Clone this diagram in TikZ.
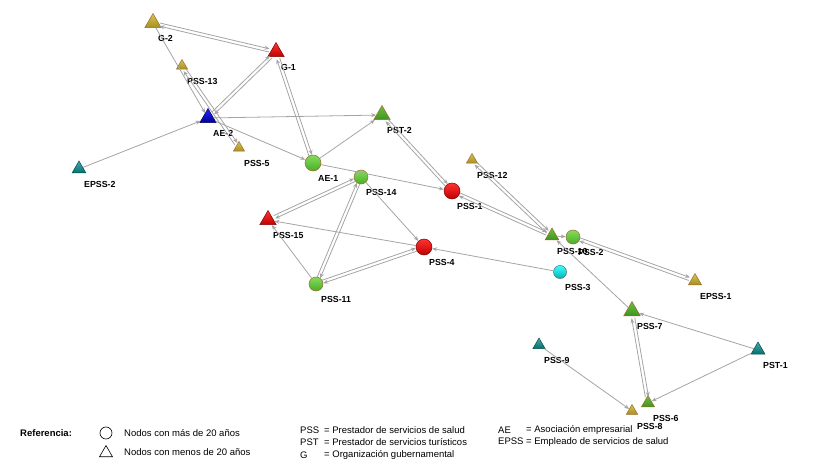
\documentclass[tikz,border=0pt]{standalone}
\usepackage{fontspec}
\setmainfont{Liberation Sans}
\usetikzlibrary{shapes.geometric,arrows.meta,calc}

\definecolor{linegray}{HTML}{A4A4A4}
\definecolor{rimbrown}{HTML}{9A6A28}
\definecolor{olivetop}{HTML}{D6C452}
\definecolor{olivebot}{HTML}{A88E22}
\definecolor{greentop}{HTML}{6CC040}
\definecolor{greenbot}{HTML}{3E9420}
\definecolor{balltop}{HTML}{86DC5C}
\definecolor{ballbot}{HTML}{48AE28}

\tikzset{
  edge/.style={draw=linegray, line width=0.8pt, -{Stealth[length=5pt,width=4pt]}},
  nd/.style={inner sep=0pt, draw=rimbrown, line width=0.5pt},
  tri/.style={nd, regular polygon, regular polygon sides=3, minimum size=19pt},
  smalltri/.style={tri, minimum size=13pt},
  ball/.style={nd, circle, minimum size=16pt},
  smallball/.style={ball, minimum size=14pt},
  cred/.style={top color=red!80!white, bottom color=red!75!black, draw=red!50!black},
  colive/.style={top color=olivetop, bottom color=olivebot},
  cgreen/.style={top color=greentop, bottom color=greenbot},
  cgreenball/.style={top color=balltop, bottom color=ballbot},
  cblue/.style={top color=blue!85!white, bottom color=blue!60!black, draw=blue!30!black},
  cteal/.style={top color=teal!70!white, bottom color=teal!90!black, draw=teal!60!black},
  ccyan/.style={top color=cyan!75!white, bottom color=cyan!70!black, draw=cyan!40!black},
  lbl/.style={font=\bfseries\fontsize{8.8}{10}\selectfont, inner sep=0pt, anchor=north west, xshift=5pt, yshift=-12pt},
  legtxt/.style={font=\fontsize{9.5}{11}\selectfont, inner sep=0pt, anchor=west},
}

\newcommand{\twoway}[4]{%
  \draw[edge, shorten <=#3, shorten >=#4] ($(#1)!1.6pt!90:(#2)$) -- ($(#2)!1.6pt!-90:(#1)$);
  \draw[edge, shorten <=#4, shorten >=#3] ($(#2)!1.6pt!90:(#1)$) -- ($(#1)!1.6pt!-90:(#2)$);
}

\begin{document}
\begin{tikzpicture}[x=1pt, y=-1pt]
  \useasboundingbox (0,0) rectangle (822,473);

  \node[tri, colive] (g2) at (153,23) {};
  \node[tri, cred] (g1) at (276,52) {};
  \node[smalltri, colive] (pss13) at (182,66) {};
  \node[tri, cblue] (ae2) at (208,118) {};
  \node[smalltri, colive] (pss5) at (239,148) {};
  \node[tri, cteal, minimum size=16pt] (epss2) at (79,169) {};
  \node[tri, cgreen] (pst2) at (382,115) {};
  \node[ball, cgreenball] (ae1) at (313,163) {};
  \node[smallball, cgreenball] (pss14) at (361,177) {};
  \node[ball, cred] (pss1) at (452,191) {};
  \node[smalltri, colive] (pss12) at (472,160) {};
  \node[tri, cred] (pss15) at (268,220) {};
  \node[ball, cred] (pss4) at (424,247) {};
  \node[smallball, cgreenball] (pss11) at (316,284) {};
  \node[tri, cgreen, minimum size=16pt] (pss10) at (552,236) {};
  \node[smallball, cgreenball] (pss2) at (573,237) {};
  \node[smallball, ccyan, minimum size=13pt] (pss3) at (560,272) {};
  \node[tri, colive, minimum size=15pt] (epss1) at (695,281) {};
  \node[tri, cgreen] (pss7) at (632,311) {};
  \node[tri, cteal, minimum size=16pt] (pst1) at (758,350) {};
  \node[tri, cteal, minimum size=14pt] (pss9) at (539,345) {};
  \node[tri, cgreen, minimum size=15pt] (pss6) at (648,403) {};
  \node[smalltri, colive] (pss8) at (632,411) {};

  \node[lbl] (g2l) at (g2) {G-2};
  \node[lbl] (g1l) at (g1) {G-1};
  \node[lbl] (pss13l) at (pss13) {PSS-13};
  \node[lbl] (ae2l) at (ae2) {AE-2};
  \node[lbl] (pss5l) at (pss5) {PSS-5};
  \node[lbl] (epss2l) at (epss2) {EPSS-2};
  \node[lbl] (pst2l) at (pst2) {PST-2};
  \node[lbl] (ae1l) at (ae1) {AE-1};
  \node[lbl] (pss14l) at (pss14) {PSS-14};
  \node[lbl] (pss1l) at (pss1) {PSS-1};
  \node[lbl] (pss12l) at (pss12) {PSS-12};
  \node[lbl] (pss15l) at (pss15) {PSS-15};
  \node[lbl] (pss4l) at (pss4) {PSS-4};
  \node[lbl] (pss11l) at (pss11) {PSS-11};
  \node[lbl] (pss10l) at (pss10) {PSS-10};
  \node[lbl] (pss2l) at (pss2) {PSS-2};
  \node[lbl] (pss3l) at (pss3) {PSS-3};
  \node[lbl] (epss1l) at (epss1) {EPSS-1};
  \node[lbl] (pss7l) at (pss7) {PSS-7};
  \node[lbl] (pst1l) at (pst1) {PST-1};
  \node[lbl] (pss9l) at (pss9) {PSS-9};
  \node[lbl] (pss6l) at (pss6) {PSS-6};
  \node[lbl] (pss8l) at (pss8) {PSS-8};

  \twoway{g2}{g1}{7pt}{7pt}
  \twoway{pss13}{pss5}{5pt}{5pt}
  \twoway{ae2}{g1}{7pt}{7pt}
  \twoway{g1}{ae1}{7pt}{8pt}
  \twoway{pst2}{pss1}{7pt}{8pt}
  \twoway{pss14}{pss15}{7pt}{7pt}
  \twoway{pss14}{pss11}{7pt}{7pt}
  \twoway{pss11}{pss4}{7pt}{8pt}
  \twoway{pss1}{pss10}{8pt}{6pt}
  \twoway{pss12}{pss10}{5pt}{6pt}
  \twoway{pss2}{epss1}{7pt}{6pt}
  \twoway{pss7}{pss6}{7pt}{6pt}

  \draw[edge] (g2) -- (ae2);
  \draw[edge] (epss2) -- (ae2);
  \draw[edge] (ae2) -- (ae1);
  \draw[edge] (ae2) -- (pst2);
  \draw[edge] (ae1) -- (pst2);
  \draw[edge] (ae1) -- (pss1);
  \draw[edge] (pss14) -- (pss4);
  \draw[edge] (pss4) -- (pss15);
  \draw[edge] (pss11) -- (pss15);
  \draw[edge] (pss3) -- (pss4);
  \draw[edge] (pss10) -- (pss2);
  \draw[edge] (pss7) -- (pss10);
  \draw[edge] (pst1) -- (pss7);
  \draw[edge] (pst1) -- (pss6);
  \draw[edge] (pss9) -- (pss8);

  \node[legtxt, font=\bfseries\fontsize{9.5}{11}\selectfont] (ref) at (20,433) {Referencia:};
  \node[draw, circle, inner sep=0pt, minimum size=12pt, line width=0.6pt] (legball) at (106,433) {};
  \node[draw, regular polygon, regular polygon sides=3, inner sep=0pt, minimum size=15pt, line width=0.6pt] (legtri) at (106,453) {};
  \node[legtxt] (legballt) at (124,433) {Nodos con más de 20 años};
  \node[legtxt] (legtrit) at (124,452) {Nodos con menos de 20 años};

  \node[legtxt] (pssk) at (300,430) {PSS};
  \node[legtxt] (pstk) at (300,442) {PST};
  \node[legtxt] (gk) at (300,455) {G};
  \node[legtxt] (pssv) at (324,430) {= Prestador de servicios de salud};
  \node[legtxt] (pstv) at (324,442) {= Prestador de servicios turísticos};
  \node[legtxt] (gv) at (324,455) {= Organización gubernamental};
  \node[legtxt] (aek) at (498,430) {AE};
  \node[legtxt] (aev) at (526,430) {= Asociación empresarial};
  \node[legtxt] (epssk) at (498,442) {EPSS = Empleado de servicios de salud};
\end{tikzpicture}
\end{document}
